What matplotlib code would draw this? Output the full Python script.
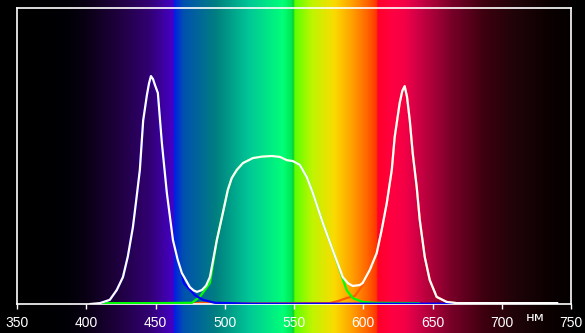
import numpy as np
import matplotlib
matplotlib.use("Agg")
import matplotlib.pyplot as plt
from matplotlib.colors import LinearSegmentedColormap

# white curve (total spectrum), nm / relative level
white_nm = [403, 410, 417, 422, 426.5, 430, 433.7, 436.2, 438.7, 441.1, 443.8, 445.3, 446.7,
            448.2, 449.6, 451.7, 454.6, 458.2, 462.6, 466, 469.0, 474.8, 477.5, 479.9,
            483.5, 486.5, 489.3, 494.3, 498.6, 502.2, 505, 508.7, 513.1, 520.3, 527, 534.0,
            539.8, 544.8, 549.1, 554.2, 559.2, 563.6, 570.8, 578.0, 585.2, 589, 592.4,
            597.5, 599.6, 604.7, 609.7, 613.3, 617.0, 620.6, 622.7, 626.3, 628.2, 629.9,
            631.6, 633.6, 635.7, 638.6, 640.8, 644.4, 648.0, 653.0, 660.2, 667.5, 690, 720,
            740]
white_val = [0.0, 0.003, 0.014, 0.047, 0.091, 0.16, 0.26, 0.355, 0.453, 0.62, 0.706, 0.745,
             0.77, 0.76, 0.74, 0.713, 0.544, 0.375, 0.216, 0.15, 0.105, 0.057, 0.046, 0.041,
             0.047, 0.062, 0.091, 0.216, 0.307, 0.385, 0.425, 0.453, 0.476, 0.493, 0.498,
             0.5, 0.497, 0.486, 0.483, 0.47, 0.429, 0.375, 0.274, 0.182, 0.091, 0.07, 0.061,
             0.064, 0.071, 0.115, 0.172, 0.25, 0.341, 0.453, 0.564, 0.679, 0.72, 0.736,
             0.7, 0.62, 0.51, 0.395, 0.284, 0.159, 0.081, 0.024, 0.007, 0.003, 0.003, 0.003,
             0.003]

# blue channel
blue_nm = [410, 417, 422, 426.5, 430, 433.7, 436.2, 438.7, 441.1, 443.8, 445.3, 446.7, 448.2,
           449.6, 451.7, 454.6, 458.2, 462.6, 466, 469.0, 470.5, 478.4, 484.2, 492.9, 520,
           600, 668]
blue_val = [0.003, 0.014, 0.047, 0.091, 0.16, 0.26, 0.355, 0.453, 0.62, 0.706, 0.745, 0.77,
            0.76, 0.74, 0.713, 0.544, 0.375, 0.216, 0.15, 0.1, 0.07, 0.03, 0.014, 0.004,
            0.001, 0.001, 0.001]

# green channel
green_nm = [412, 450, 476.3, 482.0, 489.3, 494.3, 498.6, 502.2, 505, 508.7, 513.1, 520.3,
            527, 534.0, 539.8, 544.8, 549.1, 554.2, 559.2, 563.6, 570.8, 578.0, 583.0,
            588.0, 592.4, 599.6, 607, 640]
green_val = [0.003, 0.003, 0.004, 0.024, 0.071, 0.216, 0.307, 0.385, 0.425, 0.453, 0.476,
             0.493, 0.498, 0.5, 0.497, 0.486, 0.483, 0.47, 0.429, 0.375, 0.274, 0.182, 0.115,
             0.047, 0.02, 0.007, 0.004, 0.003]

# red channel
red_nm = [477, 482, 488, 492, 575.8, 582, 588, 593.9, 597.5, 599.6, 604.7, 609.7, 613.3,
          617.0, 620.6, 622.7, 626.3, 628.2, 629.9, 631.6, 633.6, 635.7, 638.6, 640.8,
          644.4, 648.0, 653.0, 660.2, 667.5]
red_val = [0.001, 0.004, 0.004, 0.001, 0.003, 0.01, 0.02, 0.027, 0.05, 0.064, 0.11, 0.17,
           0.25, 0.341, 0.453, 0.564, 0.679, 0.72, 0.736, 0.7, 0.62, 0.51, 0.395, 0.284,
           0.159, 0.081, 0.024, 0.007, 0.003]

ticks = [350, 400, 450, 500, 550, 600, 650, 700, 750]

# background spectrum stops
stop_nm = [350, 385, 400, 422, 446, 462.8, 463.4, 470, 494, 518, 542, 548.6, 549.6, 550.4,
           563, 579, 592, 603, 609.8, 610.6, 620, 630, 639, 664, 688, 711, 736, 750]
stop_rgb = [(0, 0, 0), (0, 0, 5), (10, 0, 20), (30, 0, 60), (50, 0, 115), (70, 0, 200),
            (0, 30, 230), (0, 80, 175), (0, 128, 128), (0, 200, 150), (0, 255, 120),
            (0, 230, 80), (0, 200, 50), (90, 255, 0), (190, 245, 0), (250, 220, 0),
            (255, 160, 0), (255, 100, 0), (255, 55, 0), (255, 0, 40), (255, 0, 64),
            (245, 0, 70), (210, 0, 70), (120, 0, 40), (60, 0, 15), (30, 4, 8), (10, 0, 0),
            (5, 0, 0)]

W, H = 585, 333
x0, x1 = 17, 571
y_base, y_top = 304, 8
px = (750 - 350) / (x1 - x0)

fig = plt.figure(figsize=(W / 100, H / 100), dpi=100, facecolor="black")

# gradient behind everything, full figure height
bg = fig.add_axes([0, 0, 1, 1])
bg.set_xlim(350 - x0 * px, 350 + (W - x0) * px)
bg.set_ylim(0, 1)
bg.axis("off")
bg.set_facecolor("black")
pos = [(n - 350) / 400 for n in stop_nm]
cols = [tuple(c / 255 for c in rgb) for rgb in stop_rgb]
cmap = LinearSegmentedColormap.from_list("spec", list(zip(pos, cols)), N=1024)
grad = np.linspace(0, 1, 1600).reshape(1, -1)
bg.imshow(grad, cmap=cmap, aspect="auto", extent=[350, 750, 0, 1], interpolation="bilinear")

ax = fig.add_axes([x0 / W, (H - y_base) / H, (x1 - x0) / W, (y_base - y_top) / H])
ax.set_facecolor("none")
ax.set_xlim(350, 750)
ax.set_ylim(0, 1)
for s in ax.spines.values():
    s.set_color("white")
    s.set_linewidth(1.2)

ax.plot(red_nm, red_val, color="#ff5a00", lw=1.6, zorder=2)
ax.plot(green_nm, green_val, color="#00ff00", lw=1.6, zorder=3)
ax.plot(blue_nm, blue_val, color="#0000ff", lw=1.6, zorder=4)
ax.plot(white_nm, white_val, color="white", lw=1.6, zorder=5)

ax.set_xticks(ticks)
ax.set_xticklabels([str(t) for t in ticks], fontfamily="Liberation Sans", fontsize=10)
ax.tick_params(axis="x", colors="white", length=3.5, width=1, pad=5, direction="out")
ax.set_yticks([])

ax.text(724, -0.045, "нм", color="white", fontsize=9.5, ha="center", va="center",
        fontfamily="DejaVu Sans", clip_on=False)

fig.savefig("out.png", dpi=100, facecolor="black")
